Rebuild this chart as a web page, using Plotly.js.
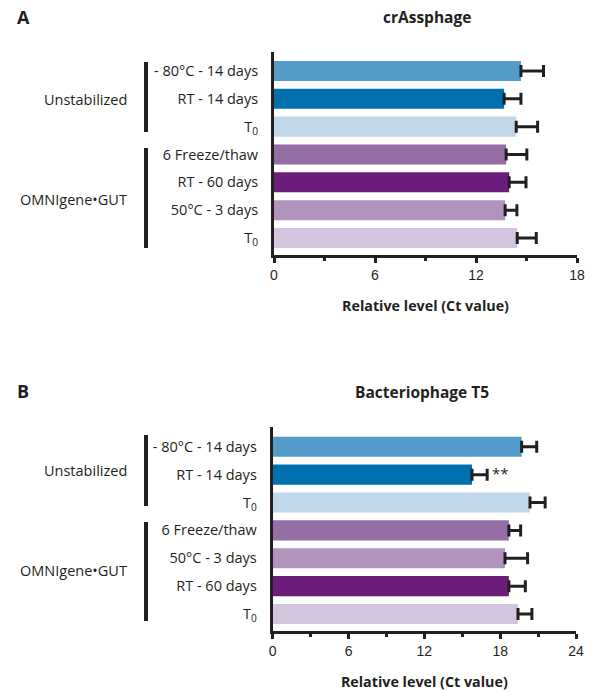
<!DOCTYPE html>
<html><head><meta charset="utf-8">
<script src="https://cdn.plot.ly/plotly-3.0.1.min.js"></script>
<style>html,body{margin:0;padding:0;background:#fff}#chart{width:594px;height:692px}</style>
</head><body><div id="chart"></div>
<script>
// ---- Data ----
const catsA = ['- 80°C - 14 days','RT - 14 days','T<sub>0</sub>','6 Freeze/thaw','RT - 60 days','50°C - 3 days','T<sub>0</sub>\u200b'];
const valsA = [14.67, 13.67, 14.39, 13.79, 13.97, 13.73, 14.45];
const errA  = [1.34, 1.00, 1.27, 1.23, 1.00, 0.70, 1.13];

const catsB = ['- 80°C - 14 days','RT - 14 days','T<sub>0</sub>','6 Freeze/thaw','50°C - 3 days','RT - 60 days','T<sub>0</sub>\u200b'];
const valsB = [19.70, 15.77, 20.36, 18.69, 18.38, 18.69, 19.41];
const errB  = [1.19, 1.20, 1.20, 0.93, 1.79, 1.30, 1.10];

const titleA = 'crAssphage';
const titleB = 'Bacteriophage T5';
const xTitle = 'Relative level (Ct value)';
const groups = ['Unstabilized', 'OMNIgene•GUT'];
const sigLabel = '**';
const sigIndexB = 1;

const colorMap = {
  '- 80°C - 14 days': '#539bc9',
  'RT - 14 days': '#0071ae',
  'T<sub>0</sub>': '#c1d7ea',
  '6 Freeze/thaw': '#956ea5',
  'RT - 60 days': '#6a1e7a',
  '50°C - 3 days': '#b094be',
  'T<sub>0</sub>\u200b': '#d4c5df'
};

// ---- Layout helpers ----
const W = 594, H = 692;
const px = x => x / W;
const py = y => 1 - y / H;
const ink = '#231f20';
const FONT = 'Open Sans, Arial, sans-serif';

function barTrace(cats, vals, errs, xa, ya) {
  return {
    type: 'bar', orientation: 'h', y: cats, x: vals,
    xaxis: xa, yaxis: ya,
    marker: {color: cats.map(c => colorMap[c]), line: {width: 0}},
    error_x: {type: 'data', array: errs, arrayminus: errs.map(() => 0), symmetric: false,
              color: ink, thickness: 3, width: 6},
    hoverinfo: 'x+y', showlegend: false
  };
}

const data = [
  barTrace(catsA, valsA, errA, 'x', 'y'),
  barTrace(catsB, valsB, errB, 'x2', 'y2')
];

function xAxis(domain, max, anchor) {
  return {
    domain: domain, anchor: anchor, range: [0, max], dtick: 6, tick0: 0,
    showgrid: false, zeroline: false, showline: true, linewidth: 3, linecolor: ink,
    ticks: 'outside', ticklen: 5, tickwidth: 3, tickcolor: ink,
    minor: {dtick: 3, tick0: 0, ticks: 'outside', ticklen: 3, tickwidth: 3, tickcolor: ink, showgrid: false},
    tickfont: {family: 'Liberation Sans, Arial, sans-serif', size: 14, color: ink},
    title: {text: '<b>' + xTitle + '</b>', font: {family: FONT, size: 14.3, color: ink}, standoff: 20},
    fixedrange: true
  };
}
function yAxis(domain, cats, anchor, range) {
  return {
    domain: domain, anchor: anchor, type: 'category', categoryorder: 'array', categoryarray: cats,
    range: range, showgrid: false, zeroline: false, showline: true, linewidth: 3, linecolor: ink,
    ticks: '', ticklabelstandoff: 10,
    tickfont: {family: FONT, size: 14.5, color: ink}, fixedrange: true
  };
}

const shapes = [];
function groupLine(x, y0, y1) {
  shapes.push({type: 'line', xref: 'paper', yref: 'paper', x0: px(x), x1: px(x), y0: py(y0), y1: py(y1),
               line: {color: ink, width: 4}});
}
groupLine(146, 62, 132); groupLine(146, 148, 248);
groupLine(146, 435, 506); groupLine(146, 522, 621);

const annotations = [];
function txt(text, x, y, size, anchor, bold) {
  annotations.push({text: bold ? '<b>' + text + '</b>' : text, xref: 'paper', yref: 'paper',
    x: px(x), y: py(y), xanchor: anchor, yanchor: 'middle', showarrow: false,
    font: {family: FONT, size: size, color: ink}});
}
txt('A', 15, 17, 18, 'left', true);
txt('B', 15, 391, 18, 'left', true);
txt(titleA, 427, 17, 15.5, 'center', true);
txt(titleB, 422, 392, 15.5, 'center', true);
txt(groups[0], 129, 99, 14.5, 'right', false);
txt(groups[1], 129, 199, 14.5, 'right', false);
txt(groups[0], 129, 470, 14.5, 'right', false);
txt(groups[1], 129, 570, 14.5, 'right', false);
annotations.push({text: sigLabel, xref: 'x2', yref: 'y2', x: valsB[sigIndexB] + errB[sigIndexB], y: catsB[sigIndexB],
  xanchor: 'left', yanchor: 'middle', xshift: 3, yshift: 2, showarrow: false,
  font: {family: FONT, size: 15, color: ink}});

const layout = {
  width: W, height: H, margin: {l: 0, r: 0, t: 0, b: 0},
  paper_bgcolor: '#fff', plot_bgcolor: '#fff',
  bargap: 0.28, showlegend: false,
  xaxis: xAxis([px(274), px(577)], 18, 'y'),
  yaxis: yAxis([py(255), py(52)], catsA, 'x', [6.61, -0.68]),
  xaxis2: xAxis([px(272.7), px(576)], 24, 'y2'),
  yaxis2: yAxis([py(631), py(427)], catsB, 'x2', [6.61, -0.71]),
  shapes: shapes, annotations: annotations
};

Plotly.newPlot('chart', data, layout, {displayModeBar: false, staticPlot: true});
</script></body></html>
